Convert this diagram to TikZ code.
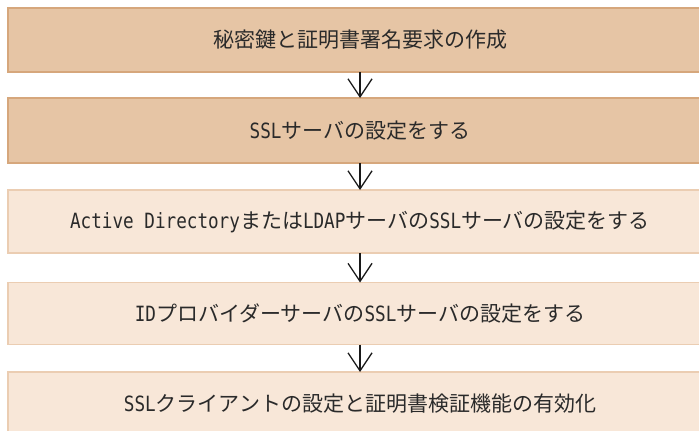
\documentclass[tikz,border=0pt]{standalone}
\usepackage{fontspec}
\usetikzlibrary{arrows.meta}
\newfontfamily\jpfont{Noto Sans CJK JP}
\newfontfamily\hwfont{DejaVu Sans Mono}[FakeStretch=0.84]
\newcommand\hw[1]{{\hwfont #1}}
\definecolor{darkfill}{HTML}{E6C5A5}
\definecolor{darkline}{HTML}{D6A77C}
\definecolor{lightfill}{HTML}{F8E7D8}
\definecolor{lightline}{HTML}{EBCDB2}
\definecolor{txt}{HTML}{2A2A2A}
\tikzset{
  stepbox/.style={minimum width=704pt, minimum height=64pt, inner sep=0pt, outer sep=0pt,
    line width=1.5pt, text=txt, font=\jpfont\fontsize{21}{24}\selectfont},
  darkbox/.style={stepbox, fill=darkfill, draw=darkline},
  lightbox/.style={stepbox, fill=lightfill, draw=lightline},
  flow/.style={line width=1.3pt, draw=black!90, -{Straight Barb[length=18pt,width=24pt,line width=1.3pt]}}
}
\begin{document}
\begin{tikzpicture}[x=1pt,y=1pt]
\clip (0,0) rectangle (699,-431);
\fill[white] (0,0) rectangle (699,-431);
\node[darkbox] (b1) at (360,-40) {秘密鍵と証明書署名要求の作成};
\node[darkbox, minimum height=65pt] (b2) at (360,-130.5) {\hw{SSL}サーバの設定をする};
\node[lightbox, minimum height=63pt] (b3) at (360,-221.5) {\hw{Active Directory}または\hw{LDAP}サーバの\hw{SSL}サーバの設定をする};
\node[lightbox, minimum height=62pt] (b4) at (360,-313.5) {\hw{ID}プロバイダーサーバの\hw{SSL}サーバの設定をする};
\node[lightbox] (b5) at (360,-404) {\hw{SSL}クライアントの設定と証明書検証機能の有効化};
\draw[flow] (b1.south) -- (b2.north);
\draw[flow] (b2.south) -- (b3.north);
\draw[flow] (b3.south) -- (b4.north);
\draw[flow] (b4.south) -- (b5.north);
\end{tikzpicture}
\end{document}
